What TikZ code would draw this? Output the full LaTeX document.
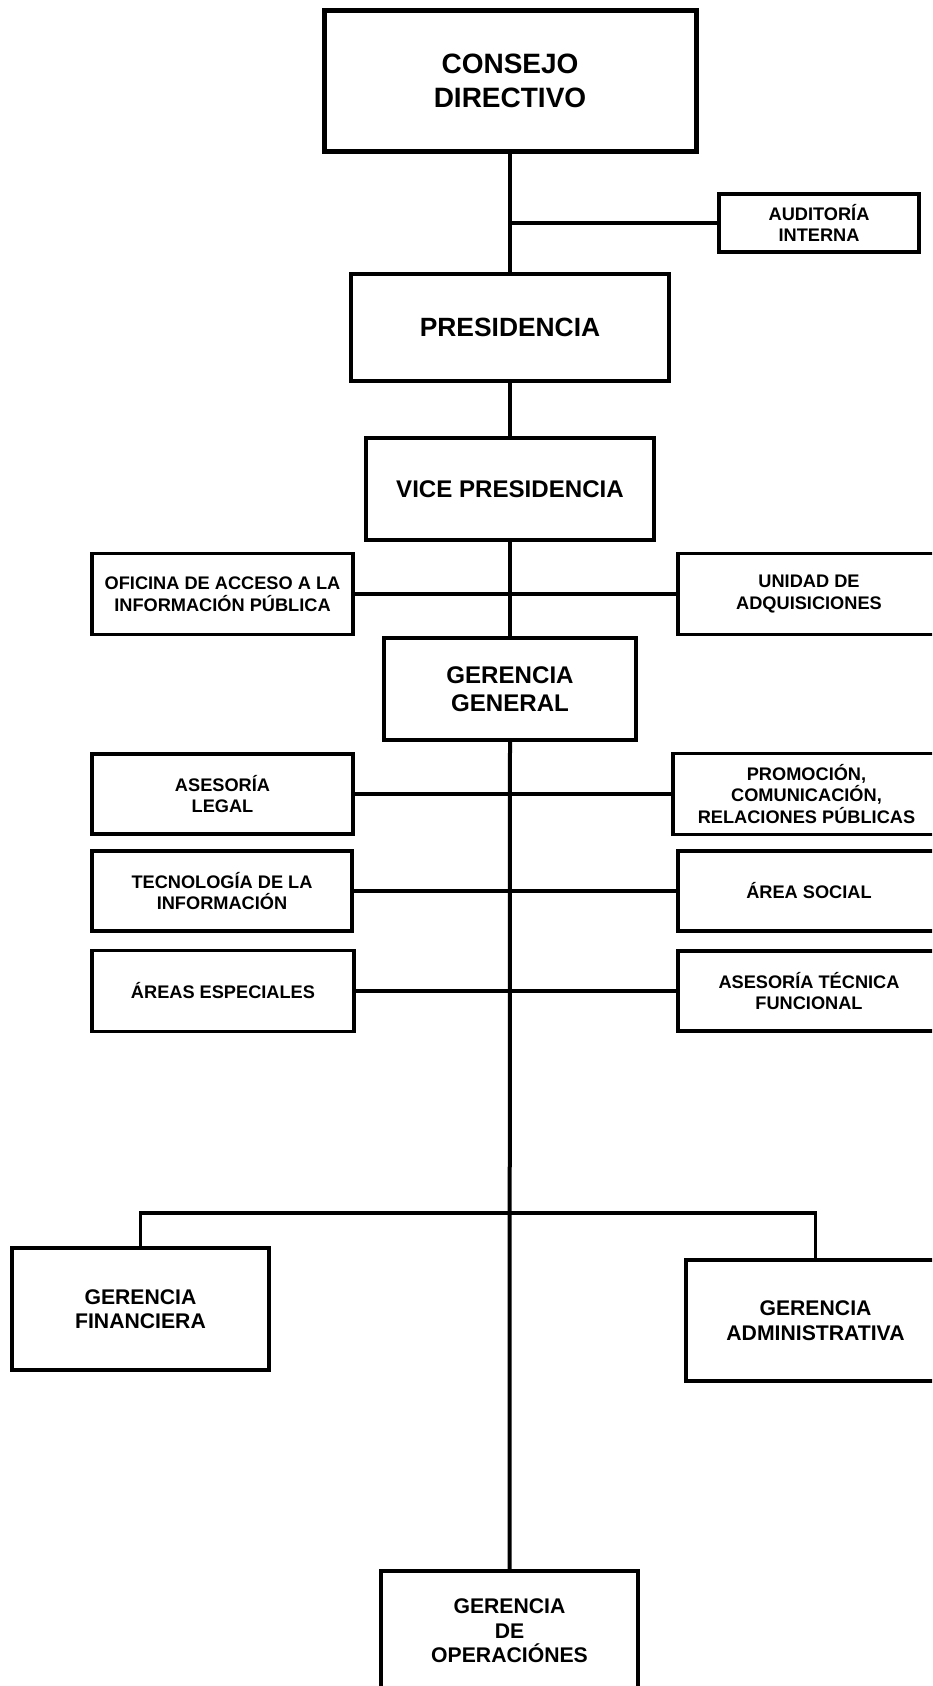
\documentclass[tikz,border=0pt]{standalone}
\usepackage{fontspec}
\setmainfont{Liberation Sans}
\begin{document}
\begin{tikzpicture}[x=1pt,y=-1pt,
  box/.style={draw=black, line width=3.2pt, rectangle, inner sep=0pt, align=center, font=\bfseries},
  bigtxt/.style={font=\bfseries\fontsize{28}{34}\selectfont},
  prestxt/.style={font=\bfseries\fontsize{26.4}{30}\selectfont},
  midtxt/.style={font=\bfseries\fontsize{24.1}{27.6}\selectfont},
  smalltxt/.style={font=\bfseries\fontsize{18.2}{21.5}\selectfont},
  gertxt/.style={font=\bfseries\fontsize{21.2}{24.5}\selectfont},
  conn/.style={draw=black, line width=3.6pt},
  mainconn/.style={draw=black, line width=4pt}]
\useasboundingbox (0,0) rectangle (932,1686);
\clip (0,0) rectangle (932,1686);
\fill[white] (0,0) rectangle (932,1686);

\node[box, bigtxt, line width=5pt, minimum width=372pt, minimum height=140pt] (consejo) at (510,81) {CONSEJO\\DIRECTIVO};
\node[box, smalltxt, minimum width=200pt, minimum height=58pt] (auditoria) at (819,223) {AUDITORÍA\\INTERNA};
\node[box, prestxt, minimum width=318pt, minimum height=107pt] (presidencia) at (510,327.5) {PRESIDENCIA};
\node[box, midtxt, minimum width=288pt, minimum height=102pt] (vice) at (510,489) {VICE PRESIDENCIA};
\node[box, smalltxt, minimum width=261pt, minimum height=81pt] (oficina) at (222.5,594) {OFICINA DE ACCESO A LA\\INFORMACIÓN PÚBLICA};
\node[box, smalltxt, minimum width=262pt, minimum height=81pt] (unidad) at (809,594) {UNIDAD DE\\ADQUISICIONES};
\node[box, midtxt, minimum width=252pt, minimum height=102pt] (gg) at (510,689) {GERENCIA\\GENERAL};
\node[box, smalltxt, minimum width=261pt, minimum height=80pt] (legal) at (222.5,794) {ASESORÍA\\LEGAL};
\node[box, smalltxt, minimum width=267pt, minimum height=81pt] (promocion) at (806.5,794) {PROMOCIÓN,\\COMUNICACIÓN,\\RELACIONES PÚBLICAS};
\node[box, smalltxt, minimum width=260pt, minimum height=80pt] (tecnologia) at (222,891) {TECNOLOGÍA DE LA\\INFORMACIÓN};
\node[box, smalltxt, minimum width=262pt, minimum height=80pt] (social) at (809,891) {ÁREA SOCIAL};
\node[box, smalltxt, minimum width=262pt, minimum height=81pt] (especiales) at (223,991) {ÁREAS ESPECIALES};
\node[box, smalltxt, minimum width=262pt, minimum height=80pt] (tecnica) at (809,991) {ASESORÍA TÉCNICA\\FUNCIONAL};
\node[box, gertxt, minimum width=257pt, minimum height=122pt] (financiera) at (140.5,1309) {GERENCIA\\FINANCIERA};
\node[box, gertxt, minimum width=259pt, minimum height=121pt] (administrativa) at (815.5,1320.5) {GERENCIA\\ADMINISTRATIVA};
\node[box, gertxt, minimum width=257pt, minimum height=120pt] (operaciones) at (509.5,1631) {GERENCIA\\DE\\OPERACIÓNES};

\coordinate (split) at (510,1213);

\draw[mainconn] (consejo.south) -- (presidencia.north);
\draw[mainconn] (presidencia.south) -- (vice.north);
\draw[mainconn] (vice.south) -- (gg.north);
\draw[mainconn] (gg.south) -- (operaciones.north);

\draw[conn] (auditoria.west) -- (auditoria.west -| consejo.south);
\draw[conn] (oficina.east) -- (unidad.west);
\draw[conn] (legal.east) -- (promocion.west);
\draw[conn] (tecnologia.east) -- (social.west);
\draw[conn] (especiales.east) -- (tecnica.west);
\draw[conn] (financiera.north) |- (split) -| (administrativa.north);
\end{tikzpicture}
\end{document}
